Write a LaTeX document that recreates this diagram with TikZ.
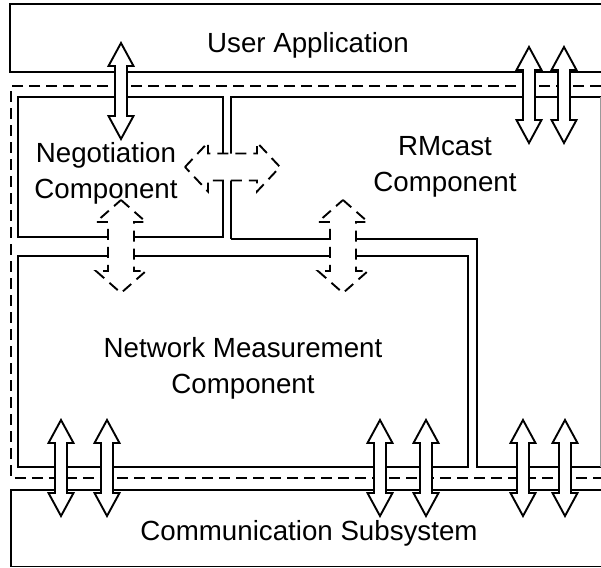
\documentclass[tikz,border=0pt]{standalone}
\usepackage{fontspec}
\setmainfont{Liberation Sans}
\definecolor{cor_cinza}{gray}{0.6}

\begin{document}
\begin{tikzpicture}[x=0.5pt,y=-0.5pt]
        \tikzset{
            linha/.style={
                draw,
                line width=0.95pt
            },
            tracejado/.style={
                linha,
                dash pattern=on 5.5pt off 3pt
            },
            seta/.style={
                draw,
                fill=white,
                line width=0.95pt,
                line join=miter,
                #1
            },
            seta/.default=solid,
            rotulo/.style={
                font=\fontsize{13.85}{18}\selectfont,
                align=center,
                inner sep=0pt
            }
        }
        \useasboundingbox (0,0) rectangle (601,568);

        \draw[linha] (601,4) -- (10,4) -- (10,72) -- (601,72);
        \draw[tracejado] (601,86) -- (11,86) -- (11,478) -- (601,478);
        \draw[linha] (18,97) rectangle (223,237);
        \draw[linha] (231,239) -- (231,97) -- (601,97);
        \draw[linha] (231,239) -- (477,239) -- (477,467) -- (601,467);
        \draw[cor_cinza, thin] (600,97) -- (600,467);
        \draw[linha] (18,256) rectangle (468,467);
        \draw[linha] (601,490) -- (11,490) -- (11,566.5) -- (601,566.5);

        \node[rotulo, anchor=base] (usuario) at (308,52) {User Application};
        \node[rotulo] (negociacao) at (106,173) {Negotiation\\Component};
        \node[rotulo] (rmcast) at (445,167) {RMcast\\Component};
        \node[rotulo] (medicao) at (243,368) {Network Measurement\\Component};
        \node[rotulo, anchor=base] (comunicacao) at (309,540) {Communication Subsystem};

        \foreach \x/\y in {121/43,529/47,564/47,61/420,107/420,380/420,426/420,523/420,565/420} { %SETAS DUPLAS
            \draw[seta] (\x,\y) -- ++(12.5,23) -- ++(-6.5,0) -- ++(0,50) -- ++(6.5,0) -- ++(-12.5,23)
                -- ++(-12.5,-23) -- ++(6.5,0) -- ++(0,-50) -- ++(-6.5,0) -- cycle;
        }
        \foreach \x in {121,343} { %SETAS TRACEJADAS
            \draw[seta={dash pattern=on 5.5pt off 3.5pt}] (\x,200) -- ++(25,22) -- ++(-12,0) -- ++(0,49) -- ++(12,0) -- ++(-25,22)
                -- ++(-25,-22) -- ++(12,0) -- ++(0,-49) -- ++(-12,0) -- cycle;
        }
        \draw[seta={dash pattern=on 5.5pt off 3.5pt}] (185,167) -- ++(23,-24.5) -- ++(0,11) -- ++(49,0) -- ++(0,-11) -- ++(23,24.5)
            -- ++(-23,24.5) -- ++(0,-11) -- ++(-49,0) -- ++(0,11) -- cycle;

\end{tikzpicture}
\end{document}
